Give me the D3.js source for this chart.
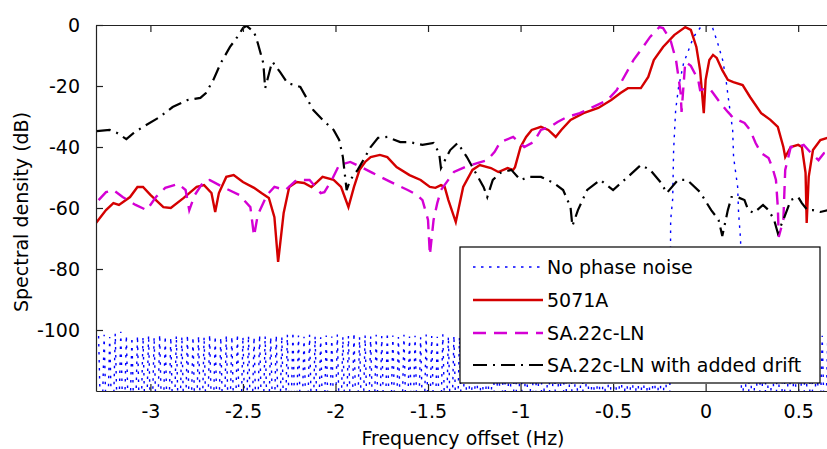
<!DOCTYPE html>
<html>
<head>
<meta charset="utf-8">
<script src="https://cdn.jsdelivr.net/npm/d3@7"></script>
<style>
  html, body { margin: 0; padding: 0; background: #fff; }
  svg { display: block; }
  text { font-family: "DejaVu Sans", sans-serif; fill: #000; }
</style>
</head>
<body>
<svg id="chart" width="827" height="449"></svg>
<script>
// ---------------- DATA ----------------
const xTicks = [-3, -2.5, -2, -1.5, -1, -0.5, 0, 0.5];
const yTicks = [0, -20, -40, -60, -80, -100];
const seriesNames = ["No phase noise", "5071A", "SA.22c-LN", "SA.22c-LN with added drift"];

// No phase noise: main lobe around 0 Hz
const blueMainLobe = [
  [-0.195,-140],[-0.189,-64],[-0.178,-57],[-0.173,-41],[-0.162,-27.9],[-0.146,-20.3],
  [-0.119,-12.5],[-0.092,-8.2],[-0.065,-3.9],[-0.027,-0.7],[0.0,0.0],[0.02,-0.4],
  [0.038,-1.0],[0.065,-5.9],[0.092,-11.5],[0.108,-17.0],[0.124,-24.6],[0.146,-34.4],
  [0.151,-43.3],[0.173,-53.1],[0.178,-61.6],[0.189,-70.5],[0.195,-140]
];
// No phase noise: sidelobe floor peaks (dB), left of main lobe and right of it
const blueFloorLeftStart = -3.28, blueFloorRightStart = 0.21, blueFloorStep = 0.03, blueFloorNull = -140;
const blueFloorLeftPeaks = [
  -102.0,-101.6,-102.3,-101.2,-100.6,-101.8,-102.4,-101.9,-102.2,-101.7,
  -102.3,-101.5,-102.0,-102.4,-101.8,-102.1,-101.6,-102.3,-101.9,-102.2,
  -101.5,-102.0,-102.4,-101.7,-102.1,-101.4,-102.2,-101.8,-102.3,-101.6,
  -102.0,-102.3,-101.7,-102.1,-101.5,-100.7,-101.8,-102.2,-101.6,-102.0,
  -102.4,-101.8,-102.1,-101.5,-102.2,-101.9,-101.0,-102.3,-101.7,-102.1,
  -101.6,-102.0,-100.9,-101.8,-102.3,-101.6,-102.1,-101.9,-102.4,-101.5,
  -102.0,-102.2,-101.4,-102.1,-101.8,-102.3,-101.6,-102.0,-101.7,-102.2,
  -101.9,-101.3,-102.1,-101.8,-102.3,-101.6,-102.0,-102.4,-101.7,-102.1,
  -101.5,-102.2,-101.9,-102.3,-101.6,-102.0,-101.8,-102.2,-101.5,-102.1,
  -101.9,-102.3,-101.7,-102.0,-101.6,-102.2,-101.8,-102.1,-101.9,-102.3,
  -101.7,-102.0,-101.8
];
const blueFloorRightPeaks = [
  -101.8,-102.2,-101.6,-102.0,-102.3,-101.7,-102.1,-101.5,-102.0,-102.4,
  -101.8,-102.1,-101.6,-102.2,-101.9,-102.0
];

const red5071A = [
  [-3.294,-64.9],[-3.24,-60.7],[-3.20,-58.4],[-3.17,-59.0],[-3.11,-56.4],[-3.07,-53.1],
  [-3.04,-53.1],[-3.00,-55.7],[-2.93,-59.7],[-2.89,-60.0],[-2.82,-56.7],[-2.75,-53.1],
  [-2.71,-52.5],[-2.67,-55.1],[-2.65,-61.3],[-2.63,-55.1],[-2.59,-49.8],[-2.55,-49.2],
  [-2.50,-51.5],[-2.44,-53.4],[-2.40,-55.1],[-2.36,-56.7],[-2.33,-63.0],[-2.31,-77.7],
  [-2.28,-61.6],[-2.25,-53.1],[-2.21,-51.5],[-2.17,-51.8],[-2.13,-53.1],[-2.10,-51.5],
  [-2.07,-49.8],[-2.01,-50.8],[-1.97,-53.1],[-1.95,-56.4],[-1.93,-59.7],[-1.90,-53.1],
  [-1.87,-47.5],[-1.84,-44.9],[-1.81,-43.3],[-1.76,-42.6],[-1.72,-43.3],[-1.67,-46.6],
  [-1.60,-49.2],[-1.54,-50.8],[-1.49,-53.1],[-1.46,-53.4],[-1.43,-52.5],[-1.41,-53.1],
  [-1.39,-57.4],[-1.35,-64.6],[-1.31,-53.1],[-1.26,-47.5],[-1.22,-45.9],[-1.16,-46.9],
  [-1.12,-48.2],[-1.07,-46.9],[-1.04,-47.5],[-1.03,-46.6],[-1.00,-40.0],[-0.97,-36.7],
  [-0.94,-34.4],[-0.89,-33.4],[-0.85,-34.4],[-0.81,-36.7],[-0.78,-34.4],[-0.73,-31.1],
  [-0.66,-28.9],[-0.58,-27.2],[-0.51,-24.6],[-0.46,-22.3],[-0.42,-20.7],[-0.35,-20.7],
  [-0.31,-17.0],[-0.28,-11.5],[-0.23,-7.2],[-0.17,-3.3],[-0.11,-0.7],[-0.08,-1.6],
  [-0.05,-7.2],[-0.03,-14.8],[-0.01,-28.9],[0.00,-18.0],[0.02,-11.5],[0.04,-9.8],
  [0.06,-10.8],[0.09,-14.8],[0.12,-18.0],[0.15,-18.7],[0.20,-19.7],[0.24,-23.6],
  [0.30,-28.9],[0.35,-31.1],[0.39,-33.4],[0.42,-40.0],[0.43,-43.3],[0.46,-40.0],
  [0.50,-39.3],[0.52,-40.0],[0.54,-48.5],[0.546,-64.9],[0.557,-49.8],[0.58,-41.0],
  [0.62,-37.7],[0.66,-37.0]
];

const magentaSA22c = [
  [-3.28,-57.4],[-3.24,-54.8],[-3.20,-54.1],[-3.15,-56.4],[-3.08,-59.0],[-3.02,-60.7],
  [-2.97,-56.4],[-2.92,-53.4],[-2.85,-52.1],[-2.81,-54.1],[-2.79,-60.7],[-2.76,-55.7],
  [-2.71,-51.1],[-2.68,-50.8],[-2.61,-53.1],[-2.52,-55.7],[-2.46,-59.7],[-2.44,-69.2],
  [-2.42,-62.3],[-2.37,-55.7],[-2.33,-53.1],[-2.27,-54.1],[-2.21,-50.8],[-2.14,-50.8],
  [-2.08,-55.1],[-2.06,-54.8],[-2.02,-50.8],[-1.98,-45.9],[-1.92,-44.9],[-1.86,-46.6],
  [-1.80,-48.5],[-1.70,-51.5],[-1.61,-54.1],[-1.56,-55.7],[-1.53,-57.4],[-1.50,-63.9],
  [-1.49,-75.4],[-1.47,-63.9],[-1.45,-58.4],[-1.43,-54.1],[-1.36,-48.2],[-1.30,-46.6],
  [-1.23,-45.2],[-1.18,-44.3],[-1.14,-41.6],[-1.11,-38.4],[-1.04,-36.7],[-0.98,-40.0],
  [-0.93,-38.4],[-0.89,-34.4],[-0.84,-33.4],[-0.80,-31.8],[-0.75,-30.2],[-0.68,-28.9],
  [-0.61,-26.9],[-0.53,-24.6],[-0.48,-21.3],[-0.42,-14.8],[-0.39,-11.5],[-0.35,-8.2],
  [-0.30,-3.9],[-0.25,-0.7],[-0.23,-1.0],[-0.19,-4.9],[-0.16,-11.5],[-0.15,-15.7],
  [-0.135,-22.3],[-0.13,-28.5],[-0.11,-12.1],[-0.08,-13.4],[-0.04,-18.0],[-0.03,-21.3],
  [0.02,-20.7],[0.04,-22.3],[0.08,-25.6],[0.12,-28.5],[0.15,-30.5],[0.21,-32.1],
  [0.24,-34.4],[0.27,-38.7],[0.30,-42.0],[0.34,-43.6],[0.36,-46.6],[0.38,-50.8],
  [0.39,-59.7],[0.395,-69.5],[0.42,-63.9],[0.43,-47.5],[0.46,-40.0],[0.50,-40.0],
  [0.53,-39.3],[0.57,-42.0],[0.61,-44.3],[0.64,-42.0],[0.66,-41.6]
];

const blackDrift = [
  [-3.29,-34.8],[-3.22,-34.4],[-3.18,-35.4],[-3.13,-37.4],[-3.09,-35.4],[-3.04,-33.4],
  [-2.95,-30.2],[-2.88,-26.9],[-2.80,-24.6],[-2.73,-23.9],[-2.70,-22.3],[-2.66,-18.0],
  [-2.62,-12.5],[-2.57,-7.2],[-2.53,-3.9],[-2.50,-1.0],[-2.48,-0.3],[-2.44,-2.3],
  [-2.42,-5.9],[-2.39,-12.5],[-2.38,-20.7],[-2.35,-13.8],[-2.34,-12.1],[-2.30,-15.4],
  [-2.26,-19.0],[-2.19,-20.3],[-2.15,-24.6],[-2.12,-27.9],[-2.07,-31.1],[-2.01,-34.4],
  [-1.98,-37.7],[-1.96,-43.3],[-1.94,-54.1],[-1.92,-50.8],[-1.88,-47.5],[-1.84,-43.3],
  [-1.81,-40.0],[-1.77,-37.0],[-1.72,-36.7],[-1.65,-38.4],[-1.60,-38.4],[-1.53,-39.3],
  [-1.47,-38.7],[-1.44,-42.0],[-1.43,-46.9],[-1.40,-43.3],[-1.38,-41.0],[-1.34,-38.7],
  [-1.29,-43.3],[-1.26,-46.6],[-1.23,-49.8],[-1.20,-53.1],[-1.18,-56.4],[-1.15,-50.8],
  [-1.11,-48.5],[-1.05,-47.5],[-1.00,-50.8],[-0.95,-49.8],[-0.89,-49.8],[-0.82,-51.8],
  [-0.77,-54.1],[-0.73,-59.7],[-0.72,-65.9],[-0.69,-60.7],[-0.64,-54.1],[-0.57,-50.8],
  [-0.50,-54.1],[-0.42,-49.8],[-0.35,-45.9],[-0.30,-47.5],[-0.24,-51.8],[-0.21,-55.1],
  [-0.15,-50.8],[-0.10,-50.8],[-0.03,-54.8],[0.03,-60.7],[0.07,-63.9],[0.09,-69.2],
  [0.12,-60.7],[0.14,-56.4],[0.17,-56.4],[0.21,-57.4],[0.23,-60.7],[0.26,-61.6],
  [0.31,-59.0],[0.34,-60.7],[0.37,-63.9],[0.39,-68.2],[0.42,-63.9],[0.46,-57.4],
  [0.50,-56.4],[0.52,-58.4],[0.55,-60.7],[0.58,-60.7],[0.62,-61.3],[0.66,-60.7]
];

// ---------------- BUILD ----------------
const blueSeries = [];
blueFloorLeftPeaks.forEach((p, i) => {
  const f = blueFloorLeftStart + i * blueFloorStep;
  blueSeries.push([f, p]);
  blueSeries.push([f + blueFloorStep / 2, blueFloorNull]);
});
blueMainLobe.forEach(d => blueSeries.push(d));
blueFloorRightPeaks.forEach((p, i) => {
  const f = blueFloorRightStart + i * blueFloorStep;
  blueSeries.push([f, p]);
  blueSeries.push([f + blueFloorStep / 2, blueFloorNull]);
});

const L = 96, R = 830, T = 25, B = 391;
const svg = d3.select("#chart");
const x = d3.scaleLinear().domain([-3.294, 0.672]).range([L, R]);
const y = d3.scaleLinear().domain([-120, 0]).range([B, T]);

svg.append("defs").append("clipPath").attr("id", "plotclip")
  .append("rect").attr("x", L).attr("y", T).attr("width", R - L).attr("height", B - T);

const line = d3.line().x(d => x(d[0])).y(d => y(d[1]));
const plot = svg.append("g").attr("clip-path", "url(#plotclip)");

const styles = [
  { data: blueSeries, color: "#0000ff", width: 1.4, dash: "2.5,5.5" },
  { data: red5071A, color: "#d40000", width: 2.4, dash: null },
  { data: magentaSA22c, color: "#d400d4", width: 2.4, dash: "13,8" },
  { data: blackDrift, color: "#000000", width: 2.2, dash: "14,6,2,6" }
];
styles.forEach(s => {
  plot.append("path").datum(s.data)
    .attr("fill", "none").attr("stroke", s.color)
    .attr("stroke-width", s.width)
    .attr("stroke-dasharray", s.dash)
    .attr("d", line);
});

// ---------------- AXES ----------------
const tickLen = 7;
const fontSize = 19;
const fmt = d => String(d);
const xAxisB = d3.axisBottom(x).tickValues(xTicks).tickSizeInner(-tickLen).tickSizeOuter(0)
  .tickPadding(14).tickFormat(fmt);
const gx = svg.append("g").attr("transform", `translate(0,${B})`).call(xAxisB);
const xAxisT = d3.axisTop(x).tickValues(xTicks).tickSizeInner(-tickLen).tickSizeOuter(0).tickFormat("");
const gxt = svg.append("g").attr("transform", `translate(0,${T})`).call(xAxisT);
const yAxisL = d3.axisLeft(y).tickValues(yTicks).tickSizeInner(-tickLen).tickSizeOuter(0)
  .tickPadding(16).tickFormat(fmt);
const gy = svg.append("g").attr("transform", `translate(${L},0)`).call(yAxisL);

[gx, gxt, gy].forEach(g => {
  g.select(".domain").attr("stroke", "#222").attr("stroke-width", 1.2);
  g.selectAll(".tick line").attr("stroke", "#222").attr("stroke-width", 1.2);
  g.selectAll(".tick text").attr("font-family", "DejaVu Sans, sans-serif")
    .attr("font-size", fontSize).attr("fill", "#000");
});
gy.selectAll(".tick text").attr("dy", "0.36em");

// axis titles
svg.append("text").attr("x", (L + R) / 2).attr("y", 445)
  .attr("text-anchor", "middle").attr("font-size", fontSize)
  .text("Frequency offset (Hz)");
svg.append("text").attr("transform", `translate(28,${(T + B) / 2 + 4}) rotate(-90)`)
  .attr("text-anchor", "middle").attr("font-size", fontSize)
  .text("Spectral density (dB)");

// ---------------- LEGEND ----------------
const leg = svg.append("g");
leg.append("rect").attr("x", 460).attr("y", 247).attr("width", 360).attr("height", 136)
  .attr("fill", "#fff").attr("stroke", "#000").attr("stroke-width", 1.2);
const rowY = [267, 300, 333, 365];
seriesNames.forEach((name, i) => {
  const s = styles[i];
  leg.append("line").attr("x1", 473).attr("x2", 543).attr("y1", rowY[i]).attr("y2", rowY[i])
    .attr("stroke", s.color).attr("stroke-width", s.width)
    .attr("stroke-dasharray", s.dash);
  leg.append("text").attr("x", 547).attr("y", rowY[i] + 7)
    .attr("font-size", fontSize).text(name);
});
</script>
</body>
</html>
